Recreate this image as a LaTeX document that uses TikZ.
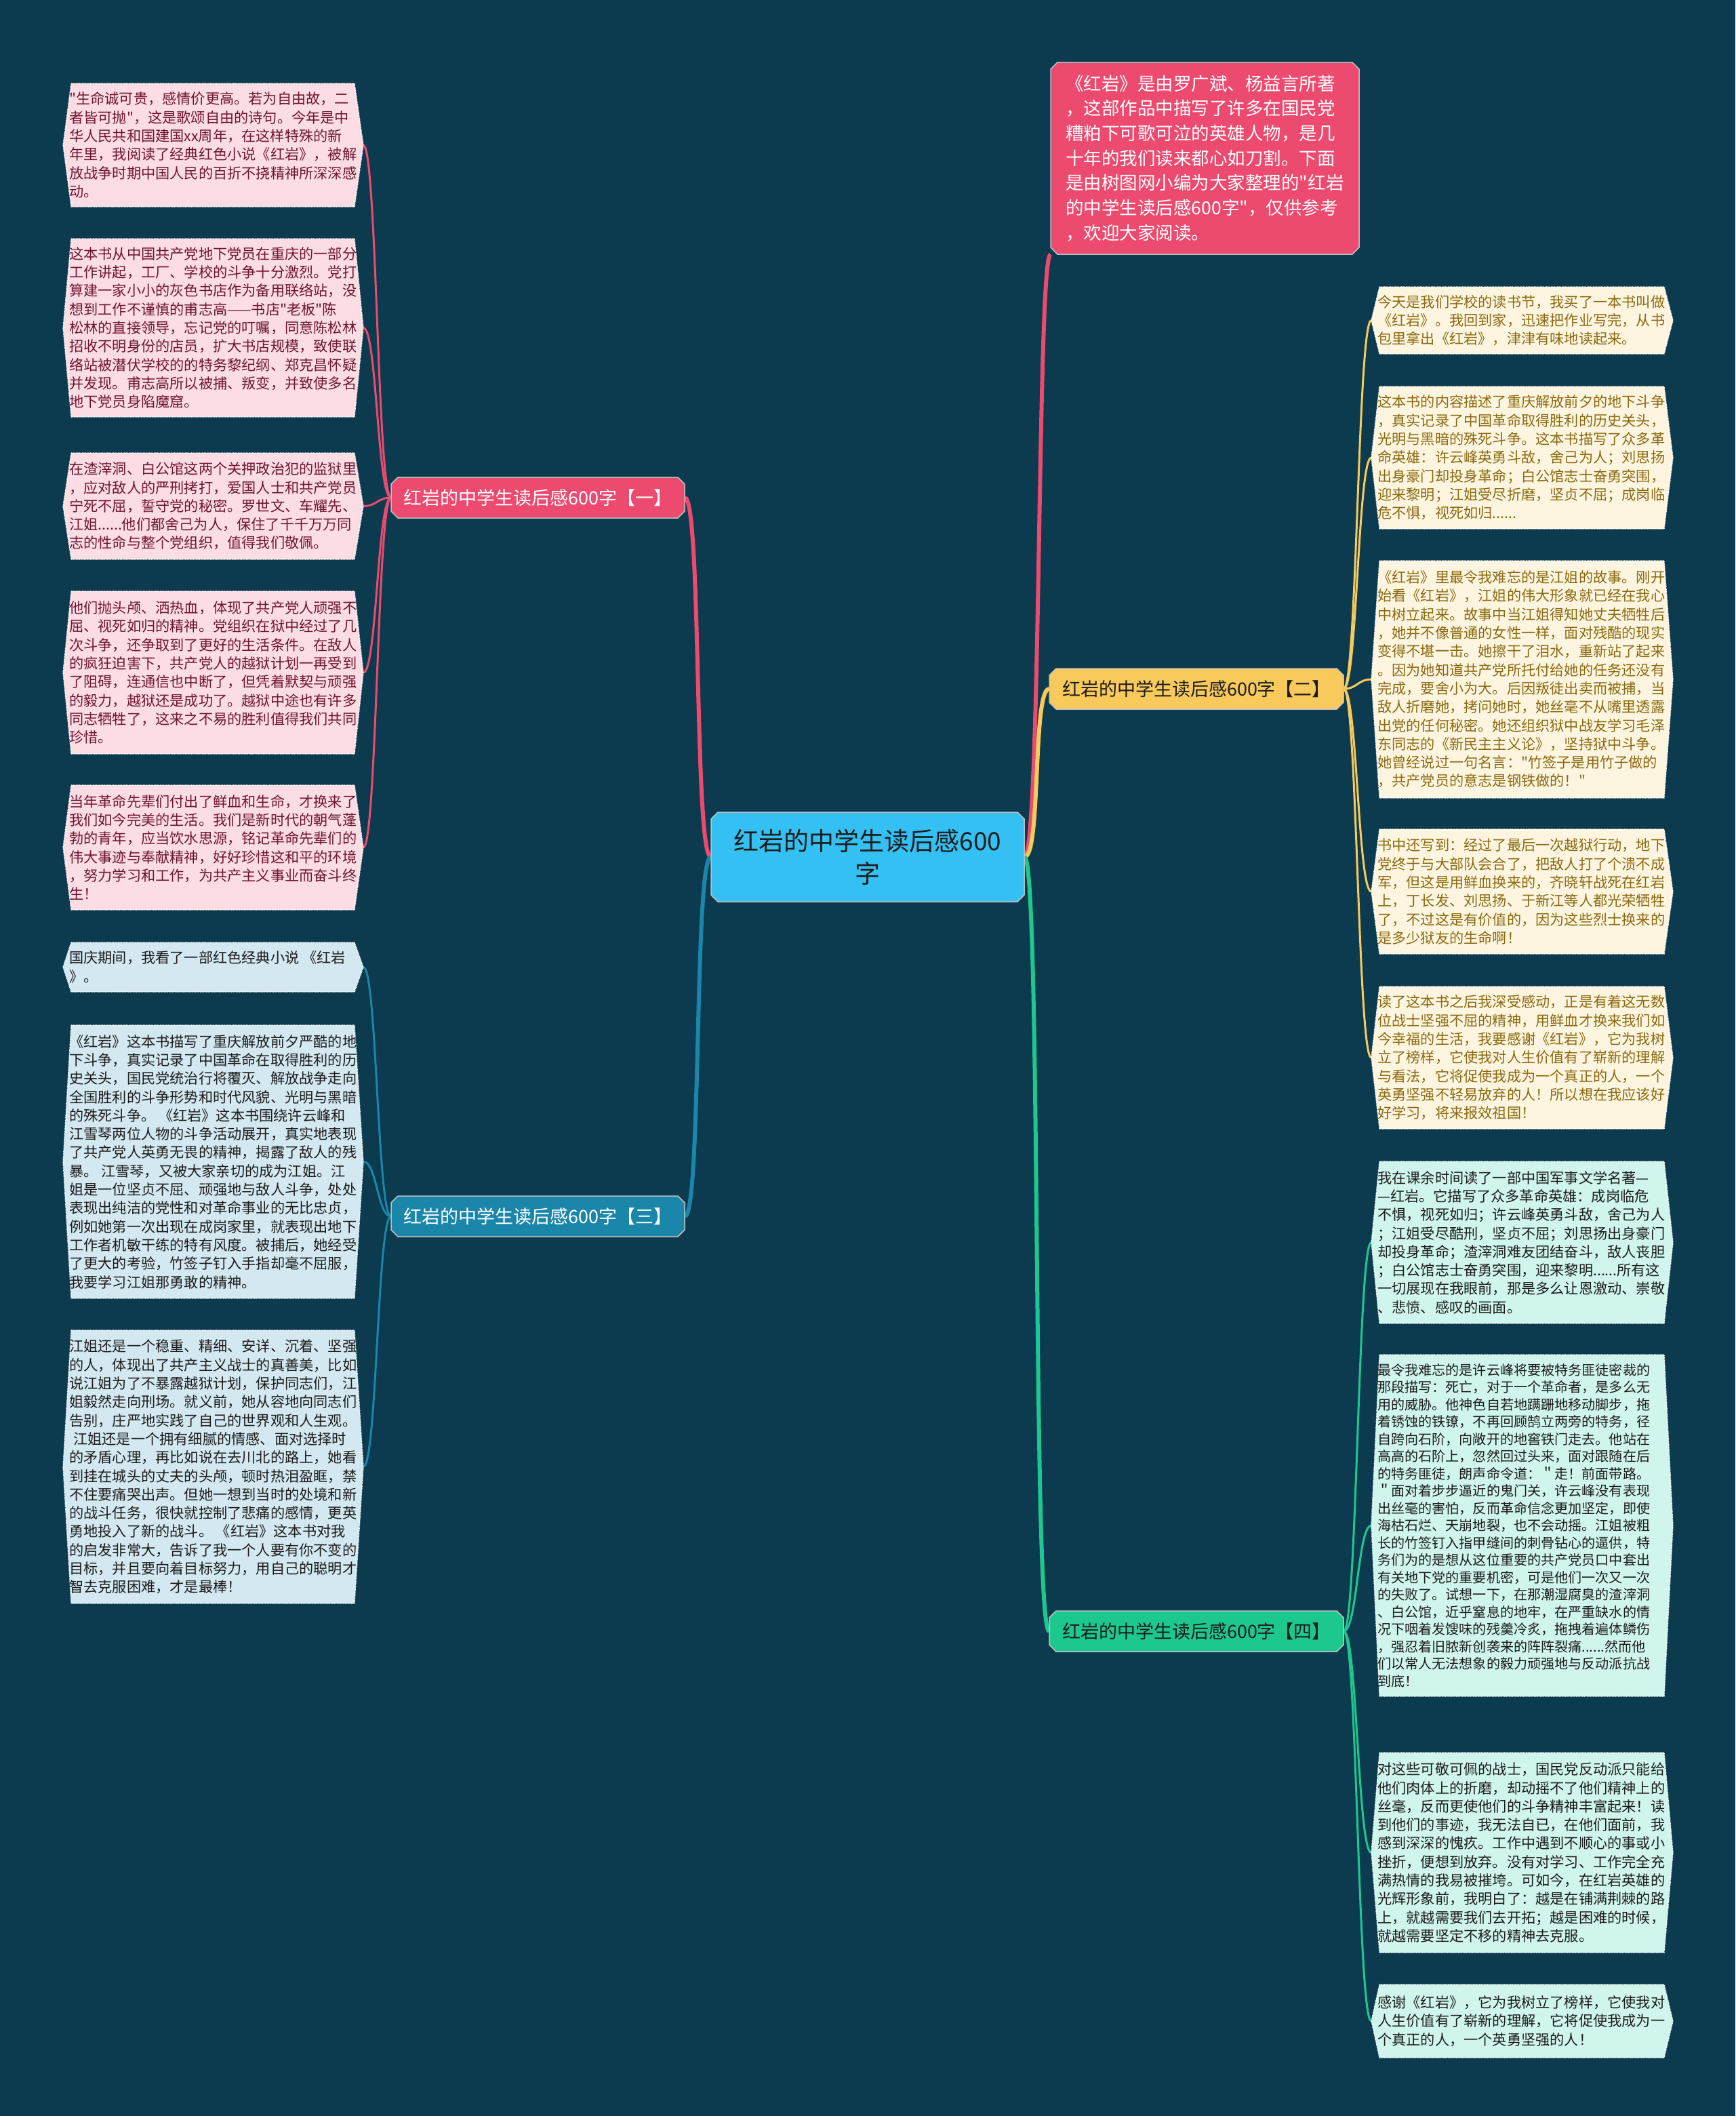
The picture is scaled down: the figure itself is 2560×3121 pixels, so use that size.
\documentclass[tikz,border=0pt]{standalone}
\usepackage{fontspec}
\newfontfamily\cjk{Noto Sans CJK SC}
\pgfdeclarelayer{back}
\pgfdeclarelayer{lines}
\pgfsetlayers{back,lines,main}
\definecolor{bg}{HTML}{0C3A4E}
\definecolor{cpink}{HTML}{EC4A6E}
\definecolor{cyellow}{HTML}{F8CA5C}
\definecolor{cblue}{HTML}{1A86AA}
\definecolor{cgreen}{HTML}{1DC88F}
\definecolor{ccenter}{HTML}{34C0F2}
\definecolor{fpink}{HTML}{FCDDE4}
\definecolor{tpink}{HTML}{6E1530}
\definecolor{fblue}{HTML}{D3E8F1}
\definecolor{fcream}{HTML}{FDF5E0}
\definecolor{tcream}{HTML}{8A6A10}
\definecolor{fmint}{HTML}{CFF5EC}
\definecolor{tdark}{HTML}{1C1C1C}
\newcommand{\leaffont}{\cjk\fontsize{21.2}{27.3}\selectfont}
\newcommand{\smallleaffont}{\cjk\fontsize{20.1}{25.5}\selectfont}
\newcommand{\branchfont}{\cjk\fontsize{27}{34}\selectfont}
\newcommand{\introfont}{\cjk\fontsize{26.5}{36.7}\selectfont}
\newcommand{\rootfont}{\cjk\fontsize{37}{48}\selectfont}
\tikzset{
  leafshape/.style={draw=white, densely dotted, line width=1.3pt},
  leaftext/.style={inner sep=0pt, align=left, font=\leaffont},
  leafconn/.style={line width=3pt},
  mainconn/.style={line width=6pt},
  chamshape/.style={draw=white!75!black, line width=1.5pt},
}
% leaf: name, xl, xr, ytop, ybot, fill, text style, text
\newcommand{\leafbox}[8]{%
  \path[leafshape,fill=#6] (#2,#4) -- (#3,#4) -- ({#3+13},{(#4+#5)/2}) -- (#3,#5) -- (#2,#5) -- ({#2-12},{(#4+#5)/2}) -- cycle;
  \node[leaftext,#7,anchor=west] (#1) at ({#2-3},{(#4+#5)/2}) {#8};
  \coordinate (#1e) at ({#3+13},{(#4+#5)/2});
  \coordinate (#1w) at ({#2-12},{(#4+#5)/2});
}
% chamfered box: name, xl, yt, xr, yb, fill, node style, text
\newcommand{\chamnode}[8]{%
  \path[chamshape,fill=#6] ({#2+10},#3) -- ({#4-10},#3) -- (#4,{#3+10}) -- (#4,{#5-10}) -- ({#4-10},#5) -- ({#2+10},#5) -- (#2,{#5-10}) -- (#2,{#3+10}) -- cycle;
  \node[#7, inner sep=0pt, minimum width={#4-#2}, minimum height={#5-#3}] (#1) at ({(#2+#4)/2},{(#3+#5)/2}) {#8};
}
\begin{document}
\begin{tikzpicture}[x=1pt,y=-1pt]
\begin{pgfonlayer}{back}
\fill[bg] (0,0) rectangle (2560,3121);
\end{pgfonlayer}
\useasboundingbox (0,0) rectangle (2560,3121);

% root and branches
\chamnode{root}{1049}{1198}{1511}{1330}{ccenter}{font=\rootfont,text=tdark,align=center}{红岩的中学生读后感600\\字}
\chamnode{intro}{1550}{92}{2005}{375}{cpink}{font=\introfont,text=white,align=left}{《红岩》是由罗广斌、杨益言所著\\，这部作品中描写了许多在国民党\\糟粕下可歌可泣的英雄人物，是几\\十年的我们读来都心如刀割。下面\\是由树图网小编为大家整理的"红岩\\的中学生读后感600字"，仅供参考\\，欢迎大家阅读。}
\chamnode{b1}{577}{704}{1010}{764}{cpink}{font=\branchfont,text=white}{红岩的中学生读后感600字【一】}
\chamnode{b2}{1548}{986}{1982}{1046}{cyellow}{font=\branchfont,text=tdark}{红岩的中学生读后感600字【二】}
\chamnode{b3}{577}{1764}{1010}{1824}{cblue}{font=\branchfont,text=white}{红岩的中学生读后感600字【三】}
\chamnode{b4}{1548}{2376}{1982}{2436}{cgreen}{font=\branchfont,text=tdark}{红岩的中学生读后感600字【四】}

% left leaves
\leafbox{L1}{105}{523}{123}{305}{fpink}{text=tpink}{"生命诚可贵，感情价更高。若为自由故，二\\者皆可抛"，这是歌颂自由的诗句。今年是中\\华人民共和国建国xx周年，在这样特殊的新\\年里，我阅读了经典红色小说《红岩》，被解\\放战争时期中国人民的百折不挠精神所深深感\\动。}
\leafbox{L2}{105}{523}{352}{615}{fpink}{text=tpink}{这本书从中国共产党地下党员在重庆的一部分\\工作讲起，工厂、学校的斗争十分激烈。党打\\算建一家小小的灰色书店作为备用联络站，没\\想到工作不谨慎的甫志高——书店"老板"陈\\松林的直接领导，忘记党的叮嘱，同意陈松林\\招收不明身份的店员，扩大书店规模，致使联\\络站被潜伏学校的的特务黎纪纲、郑克昌怀疑\\并发现。甫志高所以被捕、叛变，并致使多名\\地下党员身陷魔窟。}
\leafbox{L3}{105}{523}{668}{825}{fpink}{text=tpink}{在渣滓洞、白公馆这两个关押政治犯的监狱里\\，应对敌人的严刑拷打，爱国人士和共产党员\\宁死不屈，誓守党的秘密。罗世文、车耀先、\\江姐......他们都舍己为人，保住了千千万万同\\志的性命与整个党组织，值得我们敬佩。}
\leafbox{L4}{105}{523}{872}{1112}{fpink}{text=tpink}{他们抛头颅、洒热血，体现了共产党人顽强不\\屈、视死如归的精神。党组织在狱中经过了几\\次斗争，还争取到了更好的生活条件。在敌人\\的疯狂迫害下，共产党人的越狱计划一再受到\\了阻碍，连通信也中断了，但凭着默契与顽强\\的毅力，越狱还是成功了。越狱中途也有许多\\同志牺牲了，这来之不易的胜利值得我们共同\\珍惜。}
\leafbox{L5}{105}{523}{1158}{1342}{fpink}{text=tpink}{当年革命先辈们付出了鲜血和生命，才换来了\\我们如今完美的生活。我们是新时代的朝气蓬\\勃的青年，应当饮水思源，铭记革命先辈们的\\伟大事迹与奉献精神，好好珍惜这和平的环境\\，努力学习和工作，为共产主义事业而奋斗终\\生！}
\leafbox{L6}{105}{523}{1390}{1463}{fblue}{text=tdark}{国庆期间，我看了一部红色经典小说 《红岩\\》。}
\leafbox{L7}{105}{523}{1512}{1915}{fblue}{text=tdark}{《红岩》这本书描写了重庆解放前夕严酷的地\\下斗争，真实记录了中国革命在取得胜利的历\\史关头，国民党统治行将覆灭、解放战争走向\\全国胜利的斗争形势和时代风貌、光明与黑暗\\的殊死斗争。 《红岩》这本书围绕许云峰和\\江雪琴两位人物的斗争活动展开，真实地表现\\了共产党人英勇无畏的精神，揭露了敌人的残\\暴。 江雪琴，又被大家亲切的成为江姐。江\\姐是一位坚贞不屈、顽强地与敌人斗争，处处\\表现出纯洁的党性和对革命事业的无比忠贞，\\例如她第一次出现在成岗家里，就表现出地下\\工作者机敏干练的特有风度。被捕后，她经受\\了更大的考验，竹签子钉入手指却毫不屈服，\\我要学习江姐那勇敢的精神。}
\leafbox{L8}{105}{523}{1962}{2365}{fblue}{text=tdark}{江姐还是一个稳重、精细、安详、沉着、坚强\\的人，体现出了共产主义战士的真善美，比如\\说江姐为了不暴露越狱计划，保护同志们，江\\姐毅然走向刑场。就义前，她从容地向同志们\\告别，庄严地实践了自己的世界观和人生观。\\\hspace*{6pt}江姐还是一个拥有细腻的情感、面对选择时\\的矛盾心理，再比如说在去川北的路上，她看\\到挂在城头的丈夫的头颅，顿时热泪盈眶，禁\\不住要痛哭出声。但她一想到当时的处境和新\\的战斗任务，很快就控制了悲痛的感情，更英\\勇地投入了新的战斗。 《红岩》这本书对我\\的启发非常大，告诉了我一个人要有你不变的\\目标，并且要向着目标努力，用自己的聪明才\\智去克服困难，才是最棒！}

% right leaves
\leafbox{R1}{2035}{2455}{423}{522}{fcream}{text=tcream}{今天是我们学校的读书节，我买了一本书叫做\\《红岩》。我回到家，迅速把作业写完，从书\\包里拿出《红岩》，津津有味地读起来。}
\leafbox{R2}{2035}{2455}{570}{780}{fcream}{text=tcream}{这本书的内容描述了重庆解放前夕的地下斗争\\，真实记录了中国革命取得胜利的历史关头，\\光明与黑暗的殊死斗争。这本书描写了众多革\\命英雄：许云峰英勇斗敌，舍己为人；刘思扬\\出身豪门却投身革命；白公馆志士奋勇突围，\\迎来黎明；江姐受尽折磨，坚贞不屈；成岗临\\危不惧，视死如归......}
\leafbox{R3}{2035}{2455}{827}{1177}{fcream}{text=tcream}{《红岩》里最令我难忘的是江姐的故事。刚开\\始看《红岩》，江姐的伟大形象就已经在我心\\中树立起来。故事中当江姐得知她丈夫牺牲后\\，她并不像普通的女性一样，面对残酷的现实\\变得不堪一击。她擦干了泪水，重新站了起来\\。因为她知道共产党所托付给她的任务还没有\\完成，要舍小为大。后因叛徒出卖而被捕，当\\敌人折磨她，拷问她时，她丝毫不从嘴里透露\\出党的任何秘密。她还组织狱中战友学习毛泽\\东同志的《新民主主义论》，坚持狱中斗争。\\她曾经说过一句名言："竹签子是用竹子做的\\，共产党员的意志是钢铁做的！"}
\leafbox{R4}{2035}{2455}{1223}{1407}{fcream}{text=tcream}{书中还写到：经过了最后一次越狱行动，地下\\党终于与大部队会合了，把敌人打了个溃不成\\军，但这是用鲜血换来的，齐晓轩战死在红岩\\上，丁长发、刘思扬、于新江等人都光荣牺牲\\了，不过这是有价值的，因为这些烈士换来的\\是多少狱友的生命啊！}
\leafbox{R5}{2035}{2455}{1455}{1665}{fcream}{text=tcream}{读了这本书之后我深受感动，正是有着这无数\\位战士坚强不屈的精神，用鲜血才换来我们如\\今幸福的生活，我要感谢《红岩》，它为我树\\立了榜样，它使我对人生价值有了崭新的理解\\与看法，它将促使我成为一个真正的人，一个\\英勇坚强不轻易放弃的人！所以想在我应该好\\好学习，将来报效祖国！}
\leafbox{R6}{2035}{2455}{1713}{1952}{fmint}{text=tdark}{我在课余时间读了一部中国军事文学名著—\\—红岩。它描写了众多革命英雄：成岗临危\\不惧，视死如归；许云峰英勇斗敌，舍己为人\\；江姐受尽酷刑，坚贞不屈；刘思扬出身豪门\\却投身革命；渣滓洞难友团结奋斗，敌人丧胆\\；白公馆志士奋勇突围，迎来黎明......所有这\\一切展现在我眼前，那是多么让恩激动、崇敬\\、悲愤、感叹的画面。}
\leafbox{R7}{2035}{2455}{1998}{2502}{fmint}{text=tdark,font=\smallleaffont}{最令我难忘的是许云峰将要被特务匪徒密裁的\\那段描写：死亡，对于一个革命者，是多么无\\用的威胁。他神色自若地蹒跚地移动脚步，拖\\着锈蚀的铁镣，不再回顾鹄立两旁的特务，径\\自跨向石阶，向敞开的地窖铁门走去。他站在\\高高的石阶上，忽然回过头来，面对跟随在后\\的特务匪徒，朗声命令道：＂走！前面带路。\\＂面对着步步逼近的鬼门关，许云峰没有表现\\出丝毫的害怕，反而革命信念更加坚定，即使\\海枯石烂、天崩地裂，也不会动摇。江姐被粗\\长的竹签钉入指甲缝间的刺骨钻心的逼供，特\\务们为的是想从这位重要的共产党员口中套出\\有关地下党的重要机密，可是他们一次又一次\\的失败了。试想一下，在那潮湿腐臭的渣滓洞\\、白公馆，近乎窒息的地牢，在严重缺水的情\\况下咽着发馊味的残羹冷炙，拖拽着遍体鳞伤\\，强忍着旧脓新创袭来的阵阵裂痛......然而他\\们以常人无法想象的毅力顽强地与反动派抗战\\到底！}
\leafbox{R8}{2035}{2455}{2585}{2880}{fmint}{text=tdark}{对这些可敬可佩的战士，国民党反动派只能给\\他们肉体上的折磨，却动摇不了他们精神上的\\丝毫，反而更使他们的斗争精神丰富起来！读\\到他们的事迹，我无法自已，在他们面前，我\\感到深深的愧疚。工作中遇到不顺心的事或小\\挫折，便想到放弃。没有对学习、工作完全充\\满热情的我易被摧垮。可如今，在红岩英雄的\\光辉形象前，我明白了：越是在铺满荆棘的路\\上，就越需要我们去开拓；越是困难的时候，\\就越需要坚定不移的精神去克服。}
\leafbox{R9}{2035}{2455}{2927}{3035}{fmint}{text=tdark}{感谢《红岩》，它为我树立了榜样，它使我对\\人生价值有了崭新的理解，它将促使我成为一\\个真正的人，一个英勇坚强的人！}

\begin{pgfonlayer}{lines}
% main connectors
\draw[mainconn,cpink] (root.west) .. controls +(-25,0) and +(25,0) .. (b1.east);
\draw[mainconn,cblue] (root.west) .. controls +(-25,0) and +(25,0) .. (b3.east);
\draw[mainconn,cpink] (root.east) .. controls +(25,0) and +(-20,0) .. (intro.south west);
\draw[mainconn,cyellow] (root.east) .. controls +(25,0) and +(-25,0) .. (b2.west);
\draw[mainconn,cgreen] (root.east) .. controls +(25,0) and +(-25,0) .. (b4.west);
% leaf connectors
\foreach \n in {L1,L2,L3,L4,L5}
  \draw[leafconn,cpink] (b1.west) .. controls +(-20,0) and +(20,0) .. (\n e);
\foreach \n in {L6,L7,L8}
  \draw[leafconn,cblue] (b3.west) .. controls +(-20,0) and +(20,0) .. (\n e);
\foreach \n in {R1,R2,R3,R4,R5}
  \draw[leafconn,cyellow] (b2.east) .. controls +(20,0) and +(-20,0) .. (\n w);
\foreach \n in {R6,R7,R8,R9}
  \draw[leafconn,cgreen] (b4.east) .. controls +(20,0) and +(-20,0) .. (\n w);
\end{pgfonlayer}
\end{tikzpicture}
\end{document}
